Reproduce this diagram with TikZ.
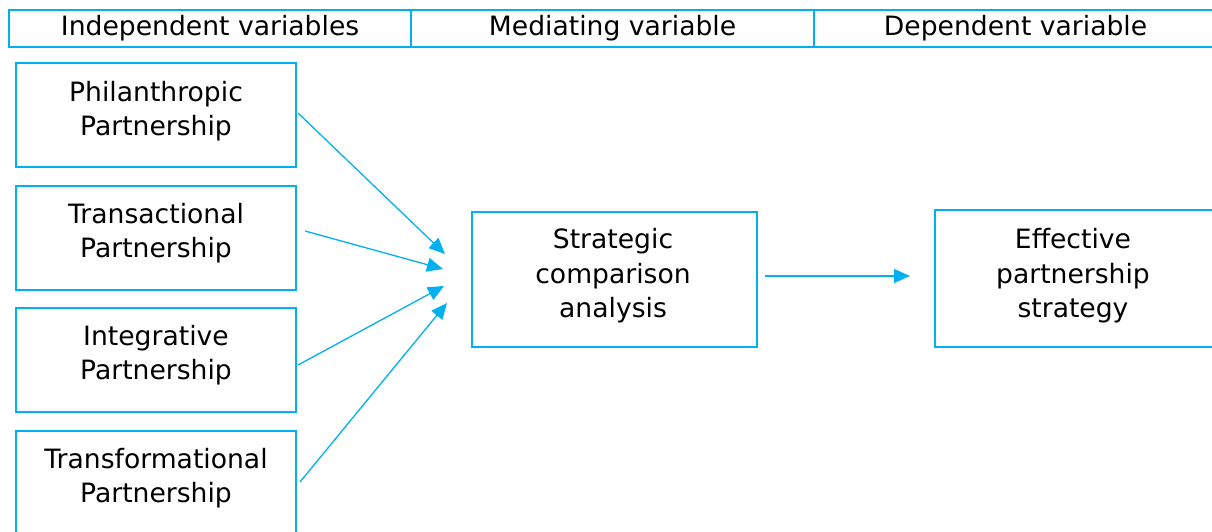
\documentclass[tikz,border=0pt]{standalone}
\usepackage{fontspec}
\setmainfont{DejaVu Sans}
\usetikzlibrary{arrows.meta}
\definecolor{cyanline}{HTML}{00B0F0}
\tikzset{
  hdr/.style={draw=cyanline, line width=2.2pt, minimum height=37pt, inner sep=0pt, anchor=north west, font=\fontsize{26.6}{34}\selectfont},
  vbox/.style={draw=cyanline, line width=2.6pt, inner sep=0pt},
  vtext/.style={align=center, inner sep=0pt, font=\fontsize{26.6}{34.5}\selectfont},
  link/.style={draw=cyanline, line width=1.3pt, -{Triangle[length=16pt,width=14pt]}}
}
\begin{document}
\begin{tikzpicture}[x=1pt,y=-1pt]
\useasboundingbox (0,0) rectangle (1212,532);
\clip (0,0) rectangle (1212,532);
% header
\node[hdr, minimum width=402pt] (h1) at (8,9) {Independent variables};
\node[hdr, minimum width=403pt] (h2) at (410,9) {Mediating variable};
\node[hdr, minimum width=403pt] (h3) at (813,9) {Dependent variable};
% independent variables
\node[vbox, minimum width=280pt, minimum height=104pt] (p1) at (156,115) {};
\node[vtext] (p1t) at (156,111) {Philanthropic\\Partnership};
\node[vbox, minimum width=280pt, minimum height=104pt] (p2) at (156,238) {};
\node[vtext] (p2t) at (156,233) {Transactional\\Partnership};
\node[vbox, minimum width=280pt, minimum height=104pt] (p3) at (156,360) {};
\node[vtext] (p3t) at (156,355) {Integrative\\Partnership};
\node[vbox, minimum width=280pt, minimum height=108pt] (p4) at (156,485) {};
\node[vtext] (p4t) at (156,478) {Transformational\\Partnership};
% mediating
\node[vbox, minimum width=285pt, minimum height=135pt] (m) at (614.5,279.5) {};
\node[vtext] (mt) at (613,276) {Strategic\\comparison\\analysis};
% dependent
\node[vbox, minimum width=280pt, minimum height=137pt] (d) at (1075,278.5) {};
\node[vtext] (dt) at (1073,276) {Effective\\partnership\\strategy};
% connectors
\coordinate (s1) at (298,113);
\coordinate (t1) at (445,254);
\coordinate (s2) at (305,231);
\coordinate (t2) at (443,269);
\coordinate (s3) at (298,365);
\coordinate (t3) at (444,286);
\coordinate (s4) at (300,482);
\coordinate (t4) at (447,303);
\coordinate (s5) at (765,276);
\coordinate (t5) at (910,276);
\draw[link] (s1) -- (t1);
\draw[link] (s2) -- (t2);
\draw[link] (s3) -- (t3);
\draw[link] (s4) -- (t4);
\draw[link] (s5) -- (t5);
\end{tikzpicture}
\end{document}
